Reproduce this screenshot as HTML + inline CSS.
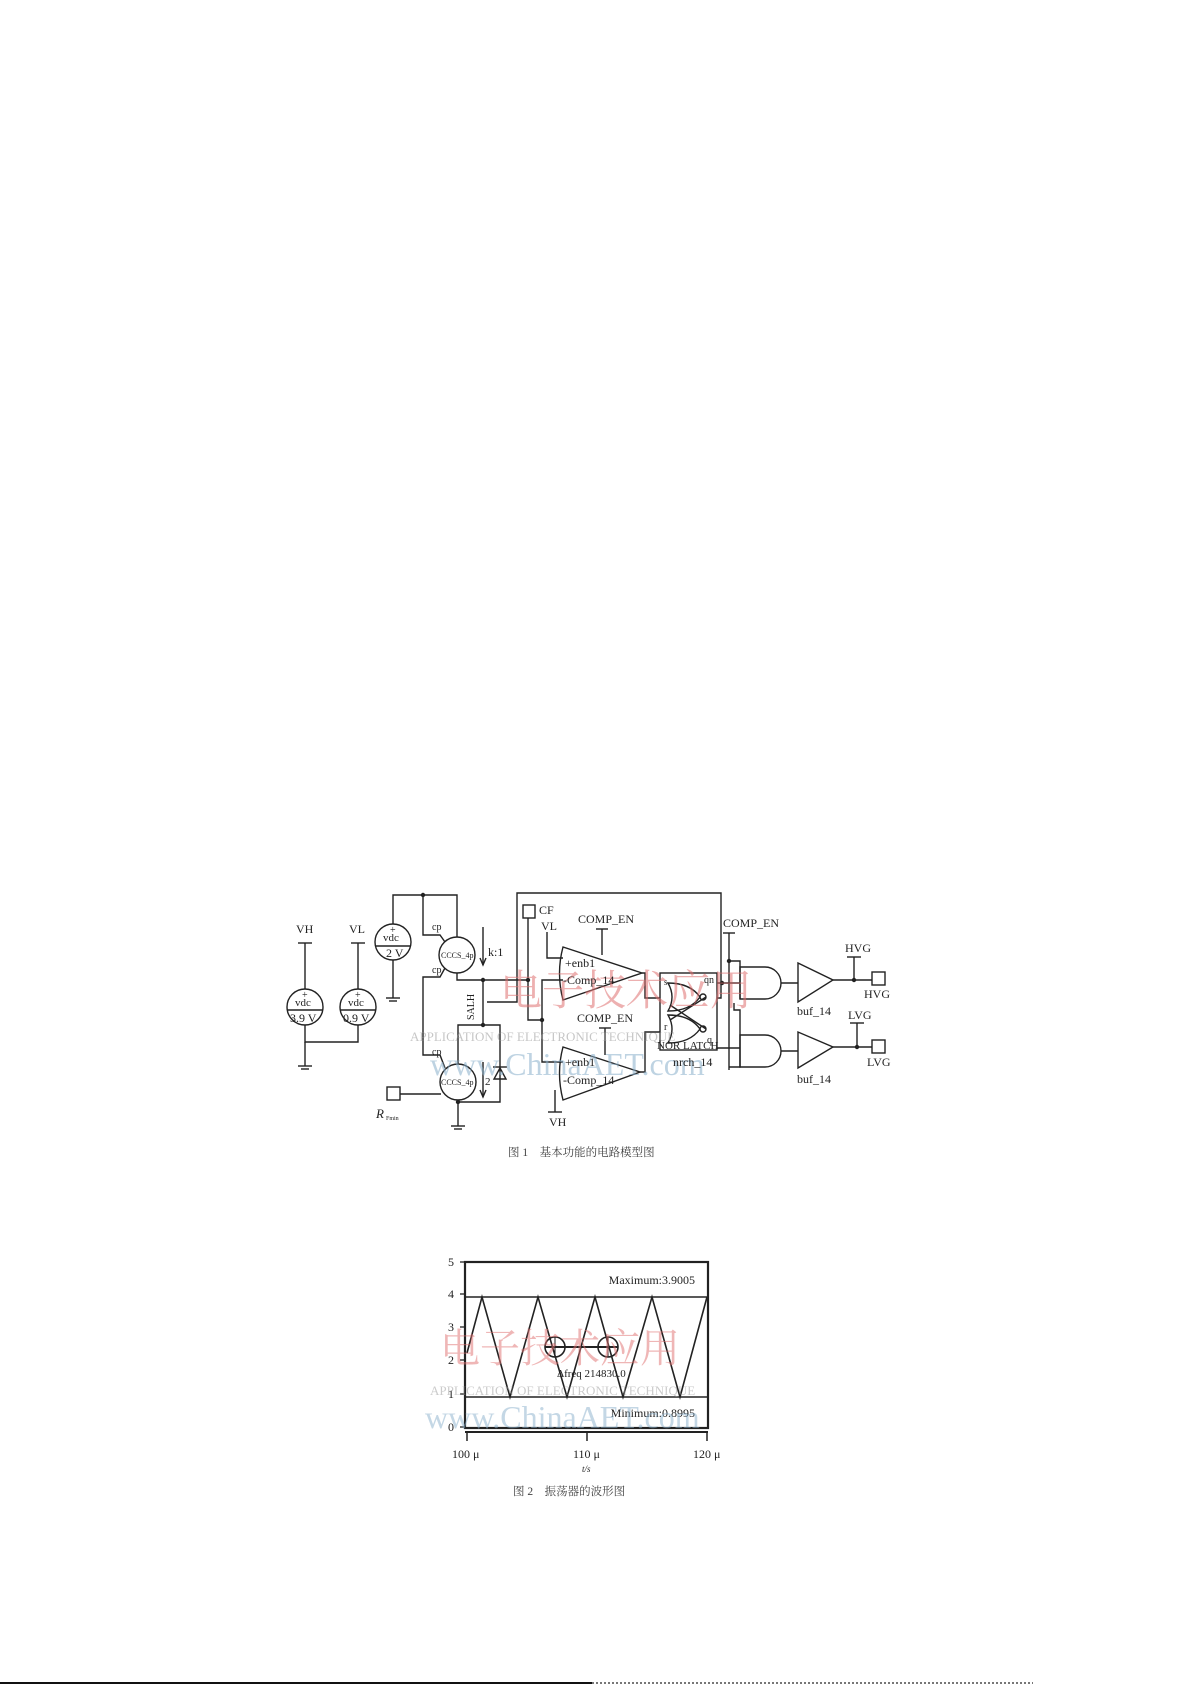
<!DOCTYPE html>
<html><head><meta charset="utf-8"><style>
html,body{margin:0;padding:0;background:#fff;}
svg{display:block;}
text{font-family:"Liberation Serif","Noto Serif CJK SC",serif;fill:#222;}
</style></head><body>
<svg width="1191" height="1685" viewBox="0 0 1191 1685" xmlns="http://www.w3.org/2000/svg">
<g stroke="#222" stroke-width="1.4" fill="none">
<!-- VH / VL sources -->
<line x1="305" y1="943" x2="305" y2="989"/><line x1="298" y1="943" x2="312" y2="943"/>
<line x1="358" y1="943" x2="358" y2="989"/><line x1="351" y1="943" x2="365" y2="943"/>
<circle cx="305" cy="1007" r="18"/><circle cx="358" cy="1007" r="18"/>
<line x1="287" y1="1010" x2="323" y2="1010"/><line x1="340" y1="1010" x2="376" y2="1010"/>
<polyline points="305,1025 305,1042 358,1042 358,1025"/>
<line x1="305" y1="1042" x2="305" y2="1066"/>
<line x1="298" y1="1066" x2="312" y2="1066"/><line x1="301" y1="1069" x2="309" y2="1069"/>
<!-- 2V source -->
<circle cx="393" cy="942" r="18"/><line x1="375" y1="946" x2="411" y2="946"/>
<polyline points="393,924 393,895 457,895 457,937"/>
<line x1="393" y1="960" x2="393" y2="998"/>
<line x1="386" y1="998" x2="400" y2="998"/><line x1="389" y1="1001" x2="397" y2="1001"/>
<polyline points="423,895 423,935 440,935 445,942"/>
<!-- upper CCCS -->
<circle cx="457" cy="955" r="18"/>
<polyline points="457,973 457,980 528,980"/>
<polyline points="445,968 440,977 423,977 423,1055 440,1055 445,1068"/>
<line x1="483" y1="927" x2="483" y2="965"/><polyline points="480,958 483,965 486,958"/>
<line x1="483" y1="980" x2="483" y2="1025"/>
<!-- lower -->
<circle cx="458" cy="1082" r="18"/>
<polyline points="458,1064 458,1025 500,1025 500,1102 458,1102 458,1100"/>
<line x1="458" y1="1102" x2="458" y2="1126"/>
<line x1="451" y1="1126" x2="465" y2="1126"/><line x1="454" y1="1129" x2="462" y2="1129"/>
<polygon points="494,1079 506,1079 500,1068"/><line x1="493" y1="1067" x2="507" y2="1067"/>
<line x1="483" y1="1062" x2="483" y2="1097"/><polyline points="480,1090 483,1097 486,1090"/>
<rect x="387" y="1087" width="13" height="13"/><line x1="400" y1="1094" x2="441" y2="1094"/>
<!-- big box -->
<polyline points="487,1002 517,1002 517,893 721,893 721,998 717,998"/>
<rect x="523" y="905" width="12" height="13"/>
<polyline points="528,918 528,1020 542,1020"/>
<polyline points="563,980 542,980 542,1062 563,1062"/>
<!-- comparators -->
<path d="M563,947 Q556,973 563,1000 L642,973 Z"/>
<path d="M563,1047 Q556,1073 563,1100 L640,1072 Z"/>
<polyline points="547,932 547,958 563,958"/>
<line x1="596" y1="929" x2="608" y2="929"/><line x1="602" y1="929" x2="602" y2="955"/>
<line x1="599" y1="1028" x2="611" y2="1028"/><line x1="605" y1="1028" x2="605" y2="1055"/>
<line x1="555" y1="1090" x2="555" y2="1112"/><line x1="548" y1="1112" x2="562" y2="1112"/>
<polyline points="642,973 645,973 645,998 660,998"/>
<polyline points="640,1072 645,1072 645,1032 660,1032"/>
<!-- latch -->
<rect x="660" y="973" width="57" height="77"/>
<path d="M668,983 Q690,983 700,997 Q690,1011 668,1011 Q676,997 668,983 Z"/>
<path d="M668,1015 Q690,1015 700,1029 Q690,1043 668,1043 Q676,1029 668,1015 Z"/>
<circle cx="703" cy="997" r="3"/><circle cx="703" cy="1029" r="3"/>
<line x1="706" y1="997" x2="670" y2="1020"/><line x1="706" y1="1029" x2="670" y2="1005"/>
<!-- right section -->
<line x1="723" y1="933" x2="735" y2="933"/>
<line x1="729" y1="933" x2="729" y2="1070"/>
<polyline points="729,961 740,961 740,999"/>
<polyline points="734,1003 734,1010 740,1010 740,1067 729,1067"/>
<line x1="717" y1="983" x2="740" y2="983"/>
<line x1="717" y1="1048" x2="740" y2="1048"/>
<path d="M740,967 L765,967 A16,16 0 0 1 765,999 L740,999 Z"/>
<path d="M740,1035 L765,1035 A16,16 0 0 1 765,1067 L740,1067 Z"/>
<line x1="781" y1="983" x2="798" y2="983"/><line x1="781" y1="1051" x2="798" y2="1051"/>
<polygon points="798,963 798,1002 833,980"/>
<polygon points="798,1032 798,1068 833,1047"/>
<line x1="833" y1="980" x2="872" y2="980"/><line x1="854" y1="957" x2="854" y2="980"/><line x1="847" y1="957" x2="861" y2="957"/>
<rect x="872" y="972" width="13" height="13"/>
<line x1="833" y1="1047" x2="872" y2="1047"/><line x1="857" y1="1023" x2="857" y2="1047"/><line x1="850" y1="1023" x2="864" y2="1023"/>
<rect x="872" y="1040" width="13" height="13"/>
</g>
<g fill="#222">
<circle cx="423" cy="895" r="2.2"/><circle cx="483" cy="980" r="2.2"/><circle cx="528" cy="980" r="2.2"/>
<circle cx="483" cy="1025" r="2.2"/><circle cx="458" cy="1102" r="2.2"/><circle cx="542" cy="1020" r="2.2"/>
<circle cx="729" cy="961" r="2.2"/><circle cx="722" cy="983" r="2.2"/><circle cx="854" cy="980" r="2.2"/><circle cx="857" cy="1047" r="2.2"/>
</g>
<!-- watermark circuit -->
<g opacity="0.55">
<text x="500" y="1005" font-size="42" style="fill:#e07070" font-family="Noto Serif CJK SC">电子技术应用</text>
<text x="410" y="1041" font-size="13" style="fill:#999" font-family="Liberation Sans">APPLICATION OF ELECTRONIC TECHNIQUE</text>
<text x="430" y="1075" font-size="32" style="fill:#8ab0cc" font-family="Liberation Sans">www.ChinaAET.com</text>
</g>
<g font-size="12">
<text x="296" y="933">VH</text><text x="349" y="933">VL</text>
<text x="295" y="1006" font-size="11">vdc</text><text x="348" y="1006" font-size="11">vdc</text>
<text x="290" y="1022">3.9 V</text><text x="343" y="1022">0.9 V</text>
<text x="383" y="941" font-size="11">vdc</text><text x="386" y="957">2 V</text>
<text x="302" y="998" font-size="10">+</text><text x="355" y="998" font-size="10">+</text><text x="390" y="933" font-size="10">+</text>
<text x="432" y="930" font-size="10">cp</text><text x="432" y="973" font-size="10">cp</text><text x="432" y="1055" font-size="10">cp</text>
<text x="441" y="958" font-size="8">CCCS_4p</text><text x="441" y="1085" font-size="8">CCCS_4p</text>
<text x="488" y="956">k:1</text><text x="485" y="1085" font-size="11">2</text>
<text x="474" y="1020" font-size="10" transform="rotate(-90 474 1020)">SALH</text>
<text x="376" y="1118" font-style="italic" font-size="13">R</text><text x="386" y="1120" font-size="6">Fmin</text>
<text x="539" y="914">CF</text>
<text x="578" y="923">COMP_EN</text><text x="541" y="930">VL</text>
<text x="565" y="967">+enb1</text><text x="563" y="984">-Comp_14</text>
<text x="577" y="1022">COMP_EN</text>
<text x="565" y="1066">+enb1</text><text x="563" y="1084">-Comp_14</text>
<text x="549" y="1126">VH</text>
<text x="664" y="985" font-size="9">s</text><text x="704" y="983" font-size="10">qn</text>
<text x="664" y="1030" font-size="10">r</text><text x="707" y="1043" font-size="10">q</text>
<text x="657" y="1049" font-size="11">NOR LATCH</text><text x="673" y="1066">nrch_14</text>
<text x="723" y="927">COMP_EN</text>
<text x="845" y="952">HVG</text><text x="864" y="998">HVG</text>
<text x="848" y="1019">LVG</text><text x="867" y="1066">LVG</text>
<text x="797" y="1015">buf_14</text><text x="797" y="1083">buf_14</text>
</g>
<text x="508" y="1156" font-size="11.5" style="fill:#444" font-family="Noto Serif CJK SC">图 1　基本功能的电路模型图</text>

<!-- graph -->
<g stroke="#222" fill="none">
<rect x="465" y="1262" width="243" height="166" stroke-width="2.2"/>
<line x1="465" y1="1297" x2="708" y2="1297" stroke-width="1.6"/>
<line x1="465" y1="1397" x2="708" y2="1397" stroke-width="1.6"/>
<line x1="465" y1="1432" x2="708" y2="1432" stroke-width="2"/>
<line x1="467" y1="1432" x2="467" y2="1441" stroke-width="1.5"/><line x1="587" y1="1432" x2="587" y2="1441" stroke-width="1.5"/><line x1="707" y1="1432" x2="707" y2="1441" stroke-width="1.5"/>
<g stroke-width="1.3"><line x1="460" y1="1262" x2="465" y2="1262"/><line x1="460" y1="1294" x2="465" y2="1294"/><line x1="460" y1="1327" x2="465" y2="1327"/><line x1="460" y1="1360" x2="465" y2="1360"/><line x1="460" y1="1394" x2="465" y2="1394"/><line x1="460" y1="1427" x2="465" y2="1427"/></g>
<polyline stroke-width="1.6" points="467,1353 482,1297 510,1397 538,1297 567,1397 595,1297 623,1397 652,1297 680,1397 707,1297"/>
<circle cx="555" cy="1347" r="10" stroke-width="1.6"/><circle cx="608" cy="1347" r="10" stroke-width="1.6"/>
<line x1="545" y1="1347" x2="618" y2="1347" stroke-width="2"/>
<line x1="555" y1="1337" x2="555" y2="1357"/><line x1="608" y1="1337" x2="608" y2="1357"/>
</g>
<g font-size="12">
<text x="448" y="1266">5</text><text x="448" y="1298">4</text><text x="448" y="1331">3</text><text x="448" y="1364">2</text><text x="448" y="1398">1</text><text x="448" y="1431">0</text>
<text x="695" y="1284" text-anchor="end">Maximum:3.9005</text>
<text x="695" y="1417" text-anchor="end">Minimum:0.8995</text>
<text x="557" y="1377" font-size="11">Δfreq 214830.0</text>
<text x="452" y="1458">100 μ</text><text x="573" y="1458">110 μ</text><text x="693" y="1458">120 μ</text>
<text x="582" y="1472" font-size="9" font-style="italic">t/s</text>
</g>
<g opacity="0.5">
<text x="440" y="1362" font-size="40" style="fill:#e07070" font-family="Noto Serif CJK SC">电子技术应用</text>
<text x="430" y="1395" font-size="13" style="fill:#999" font-family="Liberation Sans">APPLICATION OF ELECTRONIC TECHNIQUE</text>
<text x="425" y="1428" font-size="32" style="fill:#8ab0cc" font-family="Liberation Sans">www.ChinaAET.com</text>
</g>
<text x="513" y="1495" font-size="11.5" style="fill:#444" font-family="Noto Serif CJK SC">图 2　振荡器的波形图</text>
<line x1="0" y1="1683" x2="592" y2="1683" stroke="#111" stroke-width="2"/>
<line x1="592" y1="1683" x2="1033" y2="1683" stroke="#777" stroke-width="2" stroke-dasharray="2,2"/>
</svg>
</body></html>
